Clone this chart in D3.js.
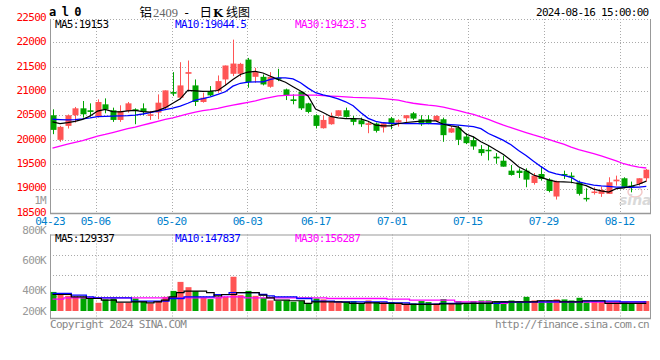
<!DOCTYPE html>
<html><head><meta charset="utf-8">
<script src="https://cdn.jsdelivr.net/npm/d3@7/dist/d3.min.js"></script>
<style>
body{margin:0;background:#fff}
svg{display:block}
.mono{font-family:"DejaVu Sans Mono",monospace;font-size:11px;letter-spacing:-0.7px}
</style>
</head><body>
<svg id="c" width="660" height="360"></svg>
<script>
// ---------------- DATA ----------------
const dates = [
 "04-23","04-24","04-25","04-26","04-29","04-30",
 "05-06","05-07","05-08","05-09","05-10","05-13","05-14","05-15","05-16","05-17","05-20","05-21","05-22","05-23","05-24","05-27","05-28","05-29","05-30","05-31",
 "06-03","06-04","06-05","06-06","06-07","06-11","06-12","06-13","06-14","06-17","06-18","06-19","06-20","06-21","06-24","06-25","06-26","06-27","06-28",
 "07-01","07-02","07-03","07-04","07-05","07-08","07-09","07-10","07-11","07-12","07-15","07-16","07-17","07-18","07-19","07-22","07-23","07-24","07-25","07-26","07-29","07-30","07-31",
 "08-01","08-02","08-05","08-06","08-07","08-08","08-09","08-12","08-13","08-14","08-15","08-16"];
const open  = [20504,20000,20286,20504,20646,20606,20476,20728,20606,20408,20592,20626,20646,20490,20558,20660,20980,20864,21354,21116,20776,21000,21000,21238,21354,21354,21646,21292,21292,21088,21272,21034,20830,20986,20748,20504,20238,20320,20490,20606,20436,20402,20306,20334,20252,20442,20354,20442,20544,20422,20422,20388,20422,20150,20252,20068,19994,19810,19796,19654,19572,19368,19368,19368,19116,19300,19184,18838,19300,19266,19130,18810,18912,18892,18892,19150,19212,19062,19096,19212];
const high  = [20626,20286,20520,20674,20796,20748,20830,20850,20660,20708,20776,20646,20748,20592,20932,21014,21388,21592,21626,21238,20966,21102,21320,21524,22054,21578,21680,21476,21340,21388,21456,21050,20932,21000,20760,20524,20504,20558,20606,20660,20490,20456,20368,20354,20354,20470,20422,20504,20572,20504,20504,20504,20456,20286,20286,20136,20068,19892,19892,19728,19674,19484,19416,19416,19320,19456,19212,19164,19368,19334,19164,19008,19028,19042,19232,19266,19232,19144,19212,19402];
const low   = [20116,19960,20232,20354,20456,20476,20456,20544,20368,20368,20558,20320,20504,20408,20422,20626,20898,20830,21000,20694,20762,20898,20966,21116,21306,21292,21068,21170,21116,21068,21204,20816,20728,20612,20544,20232,20230,20310,20476,20456,20300,20266,20136,20150,20150,20218,20272,20368,20408,20286,20320,20368,19960,20140,19892,19912,19796,19674,19578,19510,19450,19266,19218,19028,19082,19164,18924,18776,19198,19110,18858,18736,18878,18830,18892,19062,19008,18924,19062,19144];
const close = [20204,20266,20504,20646,20524,20572,20776,20626,20408,20592,20748,20592,20572,20524,20762,21014,20946,21116,21388,20776,20864,20912,21204,21524,21564,21558,21184,21388,21136,21292,21238,20912,20796,20646,20572,20286,20408,20476,20606,20470,20368,20320,20340,20184,20340,20320,20402,20504,20436,20320,20334,20490,20096,20238,20000,19932,19864,19728,19769,19620,19450,19280,19320,19184,19266,19198,18952,19150,19266,19232,18892,18790,18940,18974,19130,19184,19028,19028,19212,19388];
const ma5   = [20368,20334,20354,20380,20420,20490,20590,20626,20580,20575,20592,20605,20580,20570,20600,20660,20750,20840,21015,21005,20995,21000,21012,21120,21235,21340,21390,21405,21370,21305,21240,21180,21090,21000,20900,20630,20560,20480,20450,20436,20436,20430,20380,20300,20286,20286,20330,20355,20370,20385,20388,20388,20320,20285,20260,20120,20060,19960,19885,19790,19700,19580,19450,19370,19280,19230,19180,19144,19138,19130,19100,19062,18990,18955,18930,19000,19015,19048,19090,19153];
const ma10  = [20422,20415,20410,20415,20430,20450,20475,20480,20485,20490,20495,20505,20530,20560,20590,20620,20650,20690,20750,20815,20845,20880,20930,20985,21100,21160,21185,21190,21190,21240,21272,21272,21250,21170,21060,20966,20920,20884,20840,20780,20700,20560,20440,20380,20350,20340,20336,20334,20334,20334,20334,20330,20320,20310,20300,20286,20270,20230,20130,20060,19990,19900,19780,19680,19560,19450,19350,19300,19270,19230,19140,19100,19070,19055,19045,19030,19028,19028,19032,19044];
const ma30  = [19830,19870,19910,19950,19985,20030,20075,20110,20150,20190,20230,20260,20300,20340,20380,20420,20450,20490,20530,20570,20600,20620,20645,20680,20710,20740,20770,20800,20840,20870,20900,20910,20915,20918,20918,20915,20905,20898,20890,20880,20870,20864,20860,20855,20845,20830,20815,20780,20750,20730,20710,20695,20670,20635,20600,20560,20524,20470,20420,20360,20300,20250,20200,20150,20100,20055,20010,19960,19910,19850,19800,19760,19715,19670,19620,19570,19510,19470,19440,19423];
const volume = [386000,361000,348000,338000,338000,329000,280000,313000,322000,280000,280000,322000,290000,274000,297000,338000,396000,457000,422000,393000,329000,316000,338000,338000,491000,355000,396000,348000,329000,303000,297000,303000,290000,297000,274000,322000,313000,287000,287000,287000,297000,274000,303000,287000,287000,287000,274000,274000,274000,297000,287000,274000,316000,274000,297000,274000,297000,303000,303000,297000,297000,303000,297000,338000,303000,303000,303000,313000,313000,303000,329000,297000,297000,287000,287000,287000,287000,274000,274000,297000];
const volMA5  = [361000,361000,361000,338000,338000,322000,322000,306000,306000,287000,287000,290000,290000,280000,290000,306000,338000,380000,393000,393000,393000,380000,348000,361000,361000,380000,380000,380000,355000,329000,306000,306000,300000,300000,274000,290000,290000,290000,290000,287000,274000,274000,280000,280000,274000,274000,274000,264000,264000,264000,264000,264000,270000,270000,270000,274000,274000,274000,274000,290000,290000,290000,290000,290000,290000,300000,300000,300000,290000,290000,290000,300000,300000,300000,274000,274000,274000,274000,274000,274000];
const volMA10 = [371000,371000,371000,355000,355000,338000,329000,329000,329000,329000,329000,297000,297000,297000,297000,297000,322000,322000,338000,338000,338000,338000,360000,360000,380000,380000,380000,380000,361000,348000,338000,338000,338000,322000,322000,297000,297000,297000,290000,290000,290000,290000,290000,290000,290000,280000,280000,280000,268000,268000,268000,268000,274000,274000,274000,274000,274000,274000,274000,274000,287000,287000,287000,287000,290000,290000,290000,290000,290000,290000,290000,297000,297000,297000,297000,297000,290000,290000,290000,290000];
const volMA30 = [316000,316000,328000,328000,328000,328000,328000,328000,328000,328000,328000,328000,328000,328000,328000,328000,328000,328000,328000,328000,328000,328000,328000,338000,338000,338000,329000,329000,329000,329000,329000,329000,329000,329000,329000,329000,329000,322000,322000,322000,322000,322000,322000,322000,322000,316000,316000,316000,306000,306000,306000,306000,306000,306000,290000,290000,290000,290000,290000,274000,274000,287000,287000,287000,287000,287000,287000,287000,287000,287000,287000,287000,287000,287000,287000,287000,287000,287000,287000,287000];
const priceTicks = [22500,22000,21500,21000,20500,20000,19500,19000,18500];
const volTicks = [800000,600000,400000,200000];
const volTickLabels = ["800K","600K","400K","200K"];
const dateTicks = ["04-23","05-06","05-20","06-03","06-17","07-01","07-15","07-29","08-12"];
const legendPrice = [{t:"MA5:19153",c:"#000"},{t:"MA10:19044.5",c:"#0000ff"},{t:"MA30:19423.5",c:"#ff00ff"}];
const legendVol = [{t:"MA5:129337",c:"#000"},{t:"MA10:147837",c:"#0000ff"},{t:"MA30:156287",c:"#ff00ff"}];
const titleParts = [
  {t:"铝",x:139.5,c:"#000",f:"Noto Sans CJK SC",s:12.5,w:"normal"},
  {t:"2409",x:153,c:"#666",f:"Liberation Serif",s:12.5,w:"normal"},
  {t:"-",x:184.5,c:"#000",f:"DejaVu Sans",s:12,w:"normal"},
  {t:"日",x:199.5,c:"#000",f:"Noto Sans CJK SC",s:12.5,w:"normal"},
  {t:"K",x:213,c:"#000",f:"DejaVu Serif",s:11.5,w:"bold"},
  {t:"线图",x:226,c:"#000",f:"Noto Sans CJK SC",s:12,w:"normal"}];

// ---------------- LAYOUT ----------------
const L = 50, R = 650, mTop = 19, mBot = 213, vTop = 234.5, vBot = 318, vBase = 311;
const UP = "#ff5555", DOWN = "#00a400", GRID = "#aaa", FRAME = "#999";
const svg = d3.select("#c");
const n = dates.length;
const xC = d3.scaleLinear().domain([0, n-1]).range([52.5, 646.3]);
const xG = d3.scaleLinear().domain([0, n-1]).range([L, R]);
const y = d3.scaleLinear().domain([18500, 22500]).range([213, 17.9]);
const yV = d3.scaleLinear().domain([200000,400000,600000,800000]).range([vBase, 290.5, 260.3, 229.8]);
const bw = 6;
const idx = d3.range(n);
const isUp = i => close[i] >= open[i];

svg.append("defs").append("clipPath").attr("id","cm").append("rect").attr("x",L+0.5).attr("y",mTop).attr("width",R-L-1).attr("height",mBot-mTop);
svg.select("defs").append("clipPath").attr("id","cv").append("rect").attr("x",L+0.5).attr("y",vTop).attr("width",R-L-1).attr("height",vBot-vTop);

// ---------------- HEADER ----------------
svg.append("text").attr("x",49).attr("y",16).attr("font-family","DejaVu Sans Mono").attr("font-weight","bold").attr("font-size",12).attr("letter-spacing","-0.9px").attr("fill","#000").text("a l 0");
svg.selectAll("text.tt").data(titleParts).join("text")
  .attr("x",d=>d.x).attr("y",16.5)
  .attr("font-family",d=>d.f).attr("font-weight",d=>d.w).attr("font-size",d=>d.s)
  .attr("fill",d=>d.c).text(d=>d.t);
svg.append("text").attr("class","mono").attr("x",648.5).attr("y",15.7).attr("text-anchor","end").attr("fill","#000").text("2024-08-16 15:00:00");

// ---------------- MAIN GRID ----------------
const gM = svg.append("g");
gM.selectAll("line.h").data(priceTicks.slice(1,-1)).join("line")
  .attr("x1",L).attr("x2",R).attr("y1",d=>Math.round(y(d))+0.5).attr("y2",d=>Math.round(y(d))+0.5)
  .attr("stroke",GRID).attr("stroke-dasharray","1,2");
gM.append("line").attr("x1",L).attr("x2",R).attr("y1",mTop+0.5).attr("y2",mTop+0.5).attr("stroke",GRID).attr("stroke-dasharray","1,2");
gM.selectAll("line.v").data(dateTicks.slice(1)).join("line")
  .attr("x1",d=>Math.round(xG(dates.indexOf(d)))+0.5).attr("x2",d=>Math.round(xG(dates.indexOf(d)))+0.5)
  .attr("y1",mTop).attr("y2",mBot).attr("stroke",GRID).attr("stroke-dasharray","1,2");
gM.append("line").attr("x1",L+0.5).attr("x2",L+0.5).attr("y1",mTop).attr("y2",mBot).attr("stroke",FRAME);
gM.append("line").attr("x1",R+0.5).attr("x2",R+0.5).attr("y1",mTop).attr("y2",mBot).attr("stroke",FRAME);
gM.append("line").attr("x1",L).attr("x2",R+1).attr("y1",mBot+0.5).attr("y2",mBot+0.5).attr("stroke",FRAME).attr("stroke-width",1.5);

// price labels
svg.selectAll("text.pl").data(priceTicks).join("text").attr("class","mono")
  .attr("x",46).attr("y",d=>y(d)-1).attr("dy","0.35em").attr("text-anchor","end").attr("fill","#ff0000").text(d=>d);
svg.append("text").attr("class","mono").attr("x",46).attr("y",200.5).attr("dy","0.35em").attr("text-anchor","end").attr("fill","#999").text("1M");

// date labels
svg.selectAll("text.dl").data(dateTicks).join("text").attr("class","mono")
  .attr("x",d=>xG(dates.indexOf(d))).attr("y",225).attr("text-anchor","middle").attr("fill","#0080cc").text(d=>d);

// watermark
const wm = svg.append("g").attr("opacity",0.55);
wm.append("ellipse").attr("cx",635).attr("cy",192).attr("rx",7).attr("ry",5).attr("fill","none").attr("stroke","#e8a0a0").attr("stroke-width",1.5);
wm.append("text").attr("x",619).attr("y",205).attr("font-family","DejaVu Sans").attr("font-style","italic").attr("font-weight","bold").attr("font-size",14).attr("fill","#bbb").text("sina");

// ---------------- CANDLES ----------------
const gC = svg.append("g").attr("clip-path","url(#cm)");
gC.selectAll("line.w").data(idx).join("line")
  .attr("x1",i=>Math.round(xC(i))+0.5).attr("x2",i=>Math.round(xC(i))+0.5)
  .attr("y1",i=>y(high[i])).attr("y2",i=>y(low[i]))
  .attr("stroke",i=>isUp(i)?UP:DOWN);
gC.selectAll("rect").data(idx).join("rect")
  .attr("x",i=>Math.round(xC(i))-bw/2+0.5).attr("width",bw)
  .attr("y",i=>y(Math.max(open[i],close[i])))
  .attr("height",i=>Math.max(1.5, Math.abs(y(open[i])-y(close[i]))))
  .attr("fill",i=>isUp(i)?UP:DOWN);

const lineP = arr => d3.line().x((d,i)=>xC(i)).y(d=>y(d))(arr);
gC.append("path").attr("d",lineP(ma30)).attr("fill","none").attr("stroke","#ff00ff").attr("stroke-width",1.3);
gC.append("path").attr("d",lineP(ma10)).attr("fill","none").attr("stroke","#0000ff").attr("stroke-width",1.3);
gC.append("path").attr("d",lineP(ma5)).attr("fill","none").attr("stroke","#000").attr("stroke-width",1.2);

svg.selectAll("text.lg").data(legendPrice).join("text").attr("class","mono")
  .attr("x",(d,i)=>55+i*120).attr("y",27.5).attr("fill",d=>d.c).text(d=>d.t);

// ---------------- VOLUME ----------------
const gV = svg.append("g");
const vStep = 20.4;
gV.selectAll("line.h").data([1,2,3]).join("line")
  .attr("x1",L).attr("x2",R).attr("y1",k=>Math.round(vTop+k*vStep)+0.5).attr("y2",k=>Math.round(vTop+k*vStep)+0.5)
  .attr("stroke",GRID).attr("stroke-dasharray","1,2");
gV.selectAll("line.v").data(dateTicks.slice(1)).join("line")
  .attr("x1",d=>Math.round(xG(dates.indexOf(d)))+0.5).attr("x2",d=>Math.round(xG(dates.indexOf(d)))+0.5)
  .attr("y1",vTop).attr("y2",vBot+3).attr("stroke",GRID).attr("stroke-dasharray","1,2");
gV.append("line").attr("x1",L).attr("x2",R+1).attr("y1",vTop+0.5).attr("y2",vTop+0.5).attr("stroke",FRAME);
gV.append("line").attr("x1",L+0.5).attr("x2",L+0.5).attr("y1",vTop).attr("y2",vBot).attr("stroke",FRAME);
gV.append("line").attr("x1",R+0.5).attr("x2",R+0.5).attr("y1",vTop).attr("y2",vBot).attr("stroke",FRAME);
gV.append("line").attr("x1",L).attr("x2",R+1).attr("y1",vBot+0.5).attr("y2",vBot+0.5).attr("stroke",FRAME).attr("stroke-width",1.5);

const gB = svg.append("g").attr("clip-path","url(#cv)");
gB.selectAll("rect").data(idx).join("rect")
  .attr("x",i=>Math.round(xC(i))-bw/2+0.5).attr("width",bw)
  .attr("y",i=>yV(volume[i])).attr("height",i=>yV(200000)-yV(volume[i]))
  .attr("fill",i=>isUp(i)?UP:DOWN);
const lineV = arr => d3.line().curve(d3.curveStep).x((d,i)=>xC(i)).y(d=>yV(d))(arr);
gB.append("path").attr("d",lineV(volMA30)).attr("fill","none").attr("stroke","#ff00ff").attr("stroke-width",1.3);
gB.append("path").attr("d",lineV(volMA10)).attr("fill","none").attr("stroke","#0000ff").attr("stroke-width",1.3);
gB.append("path").attr("d",lineV(volMA5)).attr("fill","none").attr("stroke","#000").attr("stroke-width",1.2);

svg.selectAll("text.vl").data(volTicks).join("text").attr("class","mono")
  .attr("x",46).attr("y",d=>yV(d)).attr("dy","0.35em").attr("text-anchor","end").attr("fill","#999")
  .text((d,i)=>volTickLabels[i]);
svg.selectAll("text.lv").data(legendVol).join("text").attr("class","mono")
  .attr("x",(d,i)=>55+i*120).attr("y",241.5).attr("fill",d=>d.c).text(d=>d.t);

// footer
svg.append("text").attr("class","mono").attr("x",50).attr("y",327.5).attr("fill","#888").text("Copyright 2024 SINA.COM");
svg.append("text").attr("class","mono").attr("x",649).attr("y",327.5).attr("text-anchor","end").attr("fill","#888").text("http://finance.sina.com.cn");
</script>
</body></html>
